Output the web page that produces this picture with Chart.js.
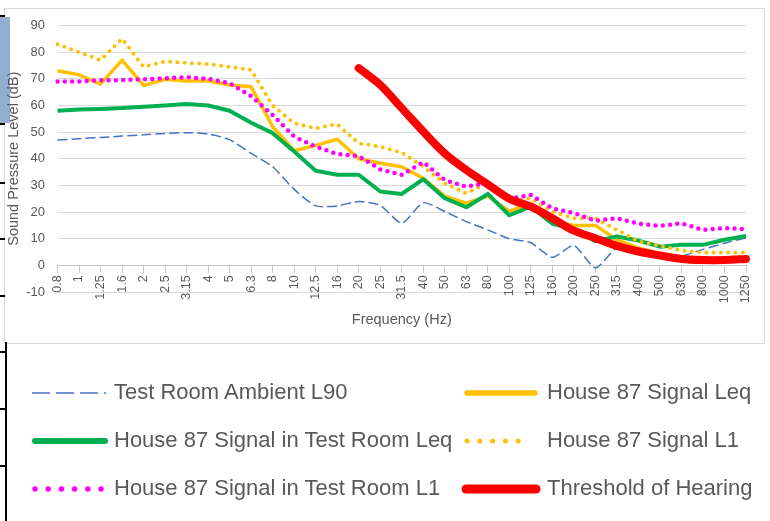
<!DOCTYPE html>
<html><head><meta charset="utf-8">
<script src="https://cdn.jsdelivr.net/npm/chart.js@4/dist/chart.umd.min.js"></script>
<style>
html,body{margin:0;padding:0;background:#fff;}
body{width:770px;height:521px;position:relative;overflow:hidden;font-family:"Liberation Sans",Arial,sans-serif;}
#frame{position:absolute;left:4px;top:8px;width:761px;height:336px;border:1px solid #d9d9d9;box-sizing:border-box;}
#wrap{position:absolute;left:5px;top:8px;width:759px;height:350px;}
.blk{position:absolute;background:#000;}
#bluebox{position:absolute;left:0;top:17px;width:10px;height:106px;background:#93aed3;}
.lt{position:absolute;font-size:22px;line-height:26px;color:#595959;white-space:nowrap;}
#legsvg{position:absolute;left:0;top:0;}
</style></head>
<body>
<div id="frame"></div>
<div id="bluebox"></div>
<div id="wrap"><canvas id="c" width="759" height="350"></canvas></div>
<div class="blk" style="left:0;top:15px;width:5px;height:2px"></div>
<div class="blk" style="left:0;top:123px;width:5px;height:2px"></div>
<div class="blk" style="left:0;top:182px;width:5px;height:2px"></div>
<div class="blk" style="left:0;top:238px;width:5px;height:2px"></div>
<div class="blk" style="left:0;top:295px;width:5px;height:2px"></div>
<div class="blk" style="left:5px;top:342px;width:2px;height:179px"></div>
<div class="blk" style="left:0;top:351px;width:6px;height:2px"></div>
<div class="blk" style="left:0;top:408px;width:6px;height:2px"></div>
<div class="blk" style="left:0;top:465px;width:6px;height:2px"></div>

<svg id="legsvg" width="770" height="521">
  <line x1="32" y1="393" x2="106" y2="393" stroke="#4472c4" stroke-width="1.6" stroke-dasharray="18 6"/>
  <line x1="467" y1="393" x2="535" y2="393" stroke="#ffc000" stroke-width="5.5" stroke-linecap="round"/>
  <line x1="35" y1="441" x2="105" y2="441" stroke="#00b050" stroke-width="6" stroke-linecap="round"/>
  <line x1="467" y1="441" x2="531" y2="441" stroke="#ffc000" stroke-width="5" stroke-linecap="round" stroke-dasharray="0 12.8"/>
  <line x1="35" y1="489" x2="101" y2="489" stroke="#ff00ff" stroke-width="5.5" stroke-linecap="round" stroke-dasharray="0 13.2"/>
  <line x1="466" y1="489" x2="536" y2="489" stroke="#ff0000" stroke-width="9" stroke-linecap="round"/>
</svg>
<div class="lt" id="l0" style="left:114px;top:379px"></div>
<div class="lt" id="l1" style="left:547px;top:379px"></div>
<div class="lt" id="l2" style="left:114px;top:427px"></div>
<div class="lt" id="l3" style="left:547px;top:427px"></div>
<div class="lt" id="l4" style="left:114px;top:475px"></div>
<div class="lt" id="l5" style="left:547px;top:475px"></div>

<script>
const categories = ['0.8','1','1.25','1.6','2','2.5','3.15','4','5','6.3','8','10','12.5','16','20','25','31.5','40','50','63','80','100','125','160','200','250','315','400','500','630','800','1000','1250'];

const seriesNames = ['Test Room Ambient L90','House 87 Signal Leq','House 87 Signal in Test Room Leq','House 87 Signal L1','House 87 Signal in Test Room L1','Threshold of Hearing'];

const ambientL90 = [47, 47.5, 48, 48.5, 49, 49.5, 49.8, 49.3, 47.2, 42, 37, 28.5, 22.3, 22.3, 24, 22.5, 15.8, 23.5, 20.2, 16.4, 13.3, 10, 8.5, 3, 7.5, -1, 6.4, 4, 3.3, 3.5, 6, 8.3, 10.3];
const signalLeq = [73, 71.5, 68, 77, 67.5, 69.8, 69.2, 69.2, 67.7, 67, 52, 43, 45, 47.3, 40, 38.3, 37, 32.7, 26, 23.3, 26, 20.3, 23.3, 16.5, 15, 15, 9.6, 6.5, 4.5, 3, 2.5, 2.5, 3];
const testRoomLeq = [58, 58.5, 58.7, 59, 59.5, 60, 60.5, 60, 58, 53.5, 49.6, 42.7, 35.5, 34, 34, 27.7, 26.8, 32.3, 25.2, 21.8, 26.8, 18.8, 22, 15.6, 13.6, 9, 10.8, 9.3, 7, 7.7, 7.7, 9.6, 11];
const signalL1 = [83, 80, 77, 85, 74.5, 76.5, 76, 75.5, 74.5, 73.3, 60, 53.3, 51.4, 53, 45.8, 44.5, 42.3, 37, 30.8, 27, 31, 24, 25.2, 20.2, 17.7, 17.7, 13.3, 9, 7.3, 5.6, 4.8, 4.8, 4.8];
const testRoomL1 = [69, 69, 69.5, 69.5, 69.8, 70.2, 70.6, 70, 68.3, 63.5, 56.4, 48.3, 44.5, 41.8, 41, 36, 34, 38.7, 32, 29.5, 31, 25, 26.4, 21.4, 19.6, 16.7, 17.7, 15.6, 14.8, 15.8, 13.3, 14, 13.6];
const threshold = [null, null, null, null, null, null, null, null, null, null, null, null, null, null, 74, 67.7, 59, 50.2, 42, 35.8, 30.4, 25, 22, 17.7, 13, 10.2, 7.3, 5.2, 3.7, 2.4, 2, 2, 2.4];

const yTicks = [-10, 0, 10, 20, 30, 40, 50, 60, 70, 80, 90];

// legend: column 1 holds series 0,2,4 ; column 2 holds series 1,3,5
seriesNames.forEach((n, i) => { document.getElementById('l' + i).textContent = n; });

const FONT = '"Liberation Sans", Arial, sans-serif';
const GRAY = '#595959';

new Chart(document.getElementById('c'), {
  type: 'line',
  data: {
    labels: categories,
    datasets: [
      {label: seriesNames[0], data: ambientL90, borderColor: '#4472c4', borderWidth: 1.5, borderDash: [10, 4], tension: 0.2, order: 6},
      {label: seriesNames[1], data: signalLeq, borderColor: '#ffc000', borderWidth: 3.5, order: 5, borderJoinStyle: 'round'},
      {label: seriesNames[2], data: testRoomLeq, borderColor: '#00b050', borderWidth: 4, order: 4, borderJoinStyle: 'round'},
      {label: seriesNames[3], data: signalL1, borderColor: '#ffc000', borderWidth: 4, borderDash: [0, 7.3], borderCapStyle: 'round', order: 3},
      {label: seriesNames[4], data: testRoomL1, borderColor: '#ff00ff', borderWidth: 4.5, borderDash: [0, 7.3], borderCapStyle: 'round', order: 2},
      {label: seriesNames[5], data: threshold, borderColor: '#ff0000', borderWidth: 8, borderCapStyle: 'round', borderJoinStyle: 'round', tension: 0.3, order: 1}
    ].map(d => Object.assign({pointRadius: 0, pointHoverRadius: 0, fill: false, spanGaps: false}, d))
  },
  options: {
    responsive: false,
    animation: false,
    devicePixelRatio: 1,
    layout: {padding: {top: 17.5, left: 0, right: 16, bottom: 66}},
    plugins: {legend: {display: false}, tooltip: {enabled: false}},
    scales: {
      x: {
        position: {y: 0},
        offset: false,
        grid: {drawOnChartArea: false, drawTicks: true, tickLength: 7, color: '#c8c8c8'},
        border: {display: true, color: '#c8c8c8'},
        ticks: {autoSkip: false, maxRotation: 90, minRotation: 90, padding: 3, color: GRAY, font: {family: FONT, size: 12.5}},
        title: {display: true, text: 'Frequency (Hz)', color: GRAY, font: {family: FONT, size: 14.5}, padding: {top: 0, bottom: 3}},
        afterFit(s) { s.height = 66; }
      },
      y: {
        min: yTicks[0], max: yTicks[yTicks.length - 1],
        afterBuildTicks(s) { s.ticks = yTicks.map(v => ({value: v})); },
        ticks: {padding: 2, color: GRAY, font: {family: FONT, size: 13}},
        grid: {color: '#d9d9d9', drawTicks: true, tickLength: 10.5, tickColor: 'rgba(0,0,0,0)'},
        border: {display: false},
        title: {display: true, text: 'Sound Pressure Level (dB)', color: GRAY, font: {family: FONT, size: 14.5}, padding: {top: 0, bottom: 0}},
        afterFit(s) { s.width = 52.5; }
      }
    }
  }
});
</script>
</body></html>
